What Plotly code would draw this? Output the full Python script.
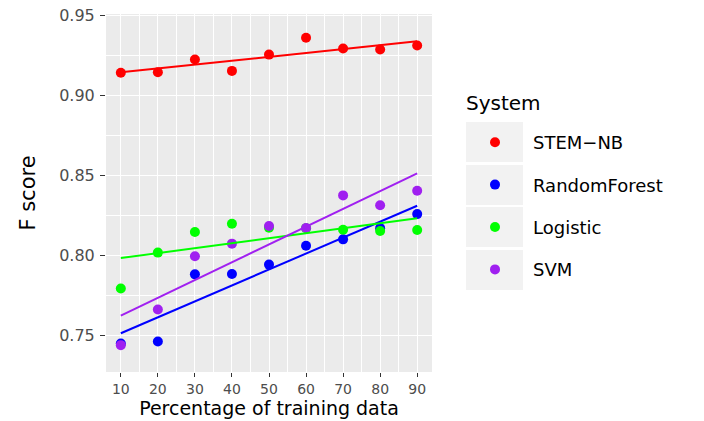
import numpy as np
import plotly.graph_objects as go

# training data percentage
pct = [10, 20, 30, 40, 50, 60, 70, 80, 90]

systems = ["STEM−NB", "RandomForest", "Logistic", "SVM"]
colors = ["#FF0000", "#0000FF", "#00FF00", "#A020F0"]

stem_nb = [0.9142, 0.9146, 0.9225, 0.9154, 0.9256, 0.9361, 0.9294, 0.9288, 0.9313]
random_forest = [0.7448, 0.7461, 0.7881, 0.7883, 0.7942, 0.8060, 0.8100, 0.8170, 0.8258]
logistic = [0.7792, 0.8017, 0.8146, 0.8198, 0.8173, 0.8170, 0.8160, 0.8152, 0.8158]
svm = [0.7438, 0.7661, 0.7994, 0.8073, 0.8183, 0.8171, 0.8375, 0.8313, 0.8404]

scores = [stem_nb, random_forest, logistic, svm]

W, H = 704, 421
L, R, T, B = 106, 432, 14, 372  # panel edges in px


def px_x(x):
    return (x - L) / (R - L)


def px_y(y):
    return (B - y) / (B - T)


font = "DejaVu Sans"
fig = go.Figure()

# points first (legend shows only the dots)
for name, col, ys in zip(systems, colors, scores):
    fig.add_trace(go.Scatter(
        x=pct, y=ys, mode="markers", name=name, legendgroup=name,
        marker=dict(color=col, size=10), cliponaxis=False,
    ))

# linear fits like geom_smooth(method = "lm", se = FALSE)
for name, col, ys in zip(systems, colors, scores):
    slope, icpt = np.polyfit(pct, ys, 1)
    xs = np.array([min(pct), max(pct)])
    fig.add_trace(go.Scatter(
        x=xs, y=slope * xs + icpt, mode="lines", showlegend=False,
        line=dict(color=col, width=2), hoverinfo="skip",
    ))

# grey legend key backgrounds
shapes = []
for c in [142, 185, 227, 270]:
    shapes.append(dict(
        type="rect", xref="paper", yref="paper", layer="below",
        x0=px_x(466), x1=px_x(523), y0=px_y(c + 20), y1=px_y(c - 20),
        fillcolor="#F2F2F2", line=dict(width=0),
    ))

fig.update_layout(
    width=W, height=H,
    margin=dict(l=L, r=W - R, t=T, b=H - B, autoexpand=False),
    paper_bgcolor="white", plot_bgcolor="#EBEBEB",
    font=dict(family=font, color="black"),
    shapes=shapes,
    annotations=[dict(
        text="System", xref="paper", yref="paper", x=px_x(464), y=px_y(103),
        xanchor="left", yanchor="middle", showarrow=False,
        font=dict(size=20, color="black"),
    )],
    legend=dict(
        font=dict(size=18, color="black"),
        x=px_x(457), y=px_y(124), xanchor="left", yanchor="top",
        bgcolor="rgba(0,0,0,0)", itemwidth=66, tracegroupgap=16,
    ),
    xaxis=dict(
        range=[6, 94], tick0=10, dtick=10, showline=False, zeroline=False,
        gridcolor="white", gridwidth=1.4,
        minor=dict(dtick=5, showgrid=True, gridcolor="white", gridwidth=0.7),
        ticks="outside", ticklen=4, tickcolor="#333333", tickwidth=1.2,
        tickfont=dict(size=14, color="#4D4D4D"),
        title=dict(text="Percentage of training data", font=dict(size=19), standoff=2),
    ),
    yaxis=dict(
        range=[0.727, 0.951], tick0=0.75, dtick=0.05, tickformat=".2f",
        showline=False, zeroline=False,
        gridcolor="white", gridwidth=1.4,
        minor=dict(dtick=0.025, showgrid=True, gridcolor="white", gridwidth=0.7),
        ticks="outside", ticklen=5, tickcolor="#333333", tickwidth=1.2,
        ticklabelstandoff=2, ticklabeloverflow="allow",
        tickfont=dict(size=16, color="#4D4D4D"),
        title=dict(text="F score", font=dict(size=21), standoff=17),
    ),
)

# drop the browser's default 8px body margin so the figure fills the window
fig.write_html(
    "out.html",
    config={"displayModeBar": False},
    post_script="document.body.style.margin = '0';",
)
